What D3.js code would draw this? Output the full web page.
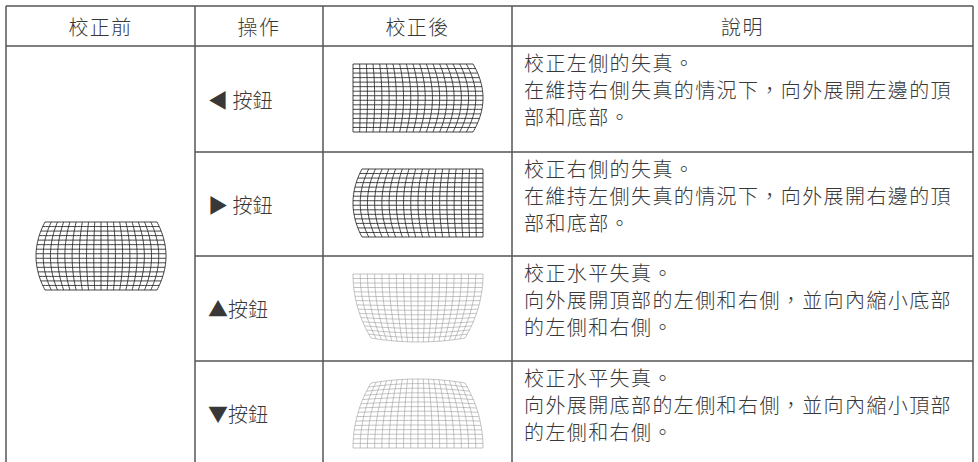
<!DOCTYPE html>
<html><head><meta charset="utf-8">
<script src="https://cdn.jsdelivr.net/npm/d3@7/dist/d3.min.js"></script>
<style>
html,body{margin:0;padding:0;background:#fff;}
svg text{font-family:"Noto Sans CJK TC","Noto Sans CJK SC",sans-serif;font-weight:300;fill:#383838;}
</style></head>
<body><svg id="c" width="978" height="462"></svg>
<script>
const headers = ["校正前", "操作", "校正後", "說明"];
const buttons = ["◀ 按鈕", "▶ 按鈕", "▲按鈕", "▼按鈕"];
const shapes = ["left", "right", "up", "down"];
const descriptions = [
  ["校正左側的失真。", "在維持右側失真的情況下，向外展開左邊的頂", "部和底部。"],
  ["校正右側的失真。", "在維持左側失真的情況下，向外展開右邊的頂", "部和底部。"],
  ["校正水平失真。", "向外展開頂部的左側和右側，並向內縮小底部", "的左側和右側。"],
  ["校正水平失真。", "向外展開底部的左側和右側，並向內縮小頂部", "的左側和右側。"]
];
const gridCols = 18, gridRows = 15;

const colEdges = [6, 195, 323, 512, 973];
const rowEdges = [6, 46, 152, 256, 361, 470];

const svg = d3.select("#c");
const FS = 20, LS = 1.4, LH = 27;

const gB = svg.append("g").attr("stroke", "#555").attr("stroke-width", 1.5).attr("fill", "none");
gB.append("line").attr("x1", colEdges[0]).attr("x2", colEdges[4]).attr("y1", rowEdges[0]).attr("y2", rowEdges[0]);
gB.append("line").attr("x1", colEdges[0]).attr("x2", colEdges[4]).attr("y1", rowEdges[1]).attr("y2", rowEdges[1]);
for (let r = 2; r <= 4; r++) {
  gB.append("line").attr("x1", colEdges[1]).attr("x2", colEdges[4]).attr("y1", rowEdges[r]).attr("y2", rowEdges[r]);
}
colEdges.forEach(x => gB.append("line").attr("x1", x).attr("x2", x).attr("y1", rowEdges[0]).attr("y2", 470));

headers.forEach((h, i) => {
  svg.append("text").attr("x", (colEdges[i] + colEdges[i+1]) / 2).attr("y", (rowEdges[0] + rowEdges[1]) / 2)
    .attr("text-anchor", "middle").attr("dominant-baseline", "central")
    .style("font-size", FS + "px").style("letter-spacing", LS + "px").text(h);
});

buttons.forEach((b, i) => {
  const top = rowEdges[i+1];
  const cy = (rowEdges[i+1] + Math.min(rowEdges[i+2], 466)) / 2;
  svg.append("text").attr("x", colEdges[1] + 13).attr("y", cy)
    .attr("dominant-baseline", "central")
    .style("font-size", FS + "px").text(b);
  descriptions[i].forEach((line, k) => {
    svg.append("text").attr("x", colEdges[3] + 12).attr("y", top + 16 + k * LH)
      .attr("dominant-baseline", "central")
      .style("font-size", FS + "px").style("letter-spacing", LS + "px").text(line);
  });
});

const u = d3.scaleLinear().domain([0, gridCols]).range([0, 1]);
const v = d3.scaleLinear().domain([0, gridRows]).range([0, 1]);
const bow = t => 1 - (2 * t - 1) * (2 * t - 1);

function mapper(kind, box) {
  const {x0, x1, y0, y1} = box;
  const H = y1 - y0;
  if (kind === "before") {
    const cx = (x0 + x1) / 2, wT = 112, wM = x1 - x0;
    return (a, b) => [cx + (a - 0.5) * (wT + (wM - wT) * bow(b)), y0 + b * H];
  }
  if (kind === "left") {
    const xrT = x1 - 10;
    return (a, b) => [x0 + a * ((xrT + 10 * bow(b)) - x0), y0 + b * H];
  }
  if (kind === "right") {
    const xlT = x0 + 9;
    return (a, b) => { const xl = xlT - 9 * bow(b); return [xl + a * (x1 - xl), y0 + b * H]; };
  }
  const cx = (x0 + x1) / 2, hw = (x1 - x0) / 2;
  if (kind === "up") {
    return (a, b) => [cx + (a - 0.5) * 2 * (hw - 18 * b * b), y0 + b * (H - 4 * (2 * a - 1) * (2 * a - 1) * b)];
  }
  return (a, b) => { const bb = 1 - b; return [cx + (a - 0.5) * 2 * (hw - 18 * bb * bb), y1 - bb * (H - 4 * (2 * a - 1) * (2 * a - 1) * bb)]; };
}

function drawGrid(kind, box, color, width) {
  const f = mapper(kind, box);
  const g = svg.append("g").attr("fill", "none").attr("stroke", color).attr("stroke-width", width);
  const line = d3.line();
  const samples = d3.range(0, 41).map(s => s / 40);
  d3.range(0, gridCols + 1).forEach(i => {
    g.append("path").attr("d", line(samples.map(s => f(u(i), s))));
  });
  d3.range(0, gridRows + 1).forEach(j => {
    g.append("path").attr("d", line(samples.map(s => f(s, v(j)))));
  });
}

drawGrid("before", {x0: 36, x1: 166, y0: 222, y1: 290}, "#222", 0.85);
const boxes = [
  {x0: 353, x1: 483, y0: 64, y1: 132},
  {x0: 353, x1: 483, y0: 169, y1: 237},
  {x0: 353, x1: 483, y0: 274, y1: 342},
  {x0: 353, x1: 483, y0: 379, y1: 448}
];
shapes.forEach((s, i) => {
  const light = s === "up" || s === "down";
  drawGrid(s, boxes[i], light ? "#9a9a9a" : "#222", light ? 0.6 : 0.85);
});
</script></body></html>
